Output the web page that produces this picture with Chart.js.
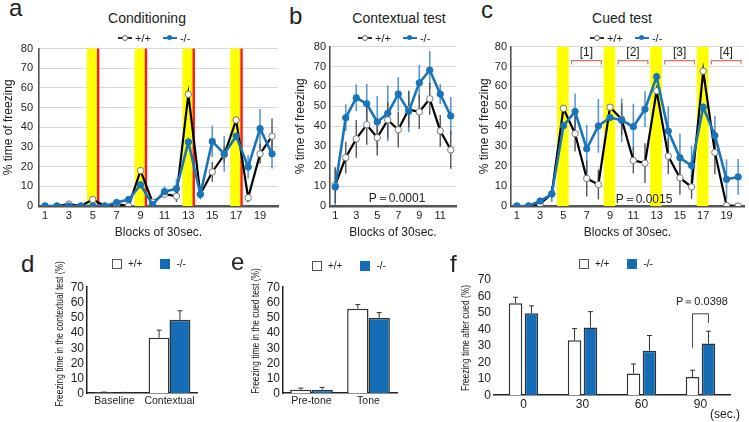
<!doctype html>
<html>

<head>
    <meta charset="utf-8" />
    <title>Freezing behaviour</title>
    <style>
        html,
        body {
            margin: 0px;
            padding: 0px;
            background-color: #ffffff;
            font-family: "Liberation Sans", Arial, sans-serif;
            color: #222222;
        }

        .page {
            position: relative;
            width: 749px;
            height: 422px;
            overflow: hidden;
        }

        canvas {
            position: absolute;
        }

        .txt {
            position: absolute;
            line-height: 1;
            white-space: nowrap;
        }

        .letter {
            font-size: 24px;
        }

        .title {
            font-size: 14px;
            transform: translateX(-50%);
        }

        .pval {
            font-size: 12px;
            transform: translateX(-50%);
        }

        .ytitle {
            position: absolute;
            font-size: 10px;
            line-height: 1;
            white-space: nowrap;
            transform: translate(-50%, -50%) rotate(-90deg) scaleX(0.84);
        }

        .ytick {
            position: absolute;
            font-size: 12px;
            line-height: 1;
            white-space: nowrap;
            color: #222222;
            transform: translate(-100%, -50%);
        }

        .lg {
            position: absolute;
            font-size: 11px;
            line-height: 12px;
            white-space: nowrap;
            display: flex;
            align-items: center;
        }

        .mk {
            position: relative;
            display: inline-block;
            width: 14px;
            height: 12px;
            margin-right: 3px;
        }

        .mk::before {
            content: "";
            position: absolute;
            left: 0px;
            right: 0px;
            top: 5px;
            height: 1.5px;
        }

        .mk::after {
            content: "";
            position: absolute;
            left: 4px;
            top: 3px;
            width: 5px;
            height: 5px;
            border-radius: 50%;
        }

        .mk.wt::before { background: #333333; }
        .mk.wt::after { background: #ffffff; border: 1px solid #666666; width: 4px; height: 4px; }
        .mk.ko::before { background: #1a74b9; height: 2px; }
        .mk.ko::after { background: #1a74b9; }

        .lgb {
            position: absolute;
            font-size: 10px;
            line-height: 10px;
            white-space: nowrap;
            display: flex;
            align-items: center;
        }

        .box {
            display: inline-block;
            width: 8px;
            height: 8px;
            border: 1px solid #555555;
            margin-right: 6px;
        }

        .box.ko {
            background: #146db5;
            border-color: #146db5;
        }
    </style>
</head>

<body>
    <div class="page" id="page">
        <canvas id="chart_a" width="284" height="209" style="left:0px;top:36px"></canvas>
        <canvas id="chart_b" width="172" height="209" style="left:290px;top:36px"></canvas>
        <canvas id="chart_c" width="279" height="209" style="left:470px;top:36px"></canvas>
        <canvas id="chart_d" width="160" height="138" style="left:40px;top:277px"></canvas>
        <canvas id="chart_e" width="164" height="138" style="left:236px;top:277px"></canvas>
        <canvas id="chart_f" width="290" height="146" style="left:455px;top:269px"></canvas>

        <div class="txt letter" style="left:9px;top:-4px">a</div>
        <div class="txt letter" style="left:289px;top:4px">b</div>
        <div class="txt letter" style="left:481px;top:-2px">c</div>
        <div class="txt letter" style="left:21px;top:252px">d</div>
        <div class="txt letter" style="left:231px;top:250px">e</div>
        <div class="txt letter" style="left:450px;top:252px">f</div>

        <div class="txt title" style="left:147px;top:11px">Conditioning</div>
        <div class="txt title" style="left:399px;top:11px">Contextual test</div>
        <div class="txt title" style="left:622px;top:11px">Cued test</div>

        <div class="lg" style="left:118px;top:32px"><span class="mk wt"></span>+/+<span style="width:12px"></span><span class="mk ko"></span>-/-</div>
        <div class="lg" style="left:358px;top:32px"><span class="mk wt"></span>+/+<span style="width:12px"></span><span class="mk ko"></span>-/-</div>
        <div class="lg" style="left:590px;top:32px"><span class="mk wt"></span>+/+<span style="width:12px"></span><span class="mk ko"></span>-/-</div>

        <div class="txt pval" style="left:397px;top:192px">P＝0.0001</div>
        <div class="txt pval" style="left:644px;top:193px">P＝0.0015</div>
        <div class="txt pval" style="left:702px;top:296px;font-size:11px">P＝0.0398</div>
        <div class="txt" style="left:710px;top:408px;font-size:12px">(sec.)</div>

        <div class="ytitle" style="left:60px;top:334px">Freezing time in the contextual test (%)</div>
        <div class="ytitle" style="left:256px;top:331px">Freezing time in the cued test (%)</div>
        <div class="ytitle" style="left:466px;top:338px">Freezing time after cued (%)</div>

        <div class="lgb" style="left:112px;top:259px"><span class="box"></span>+/+<span style="width:18px"></span><span class="box ko"></span>-/-</div>
        <div class="lgb" style="left:312px;top:261px"><span class="box"></span>+/+<span style="width:18px"></span><span class="box ko"></span>-/-</div>
        <div class="lgb" style="left:579px;top:259px"><span class="box"></span>+/+<span style="width:18px"></span><span class="box ko"></span>-/-</div>
    </div>

    <script src="https://cdn.jsdelivr.net/npm/chart.js@4.4.0/dist/chart.umd.min.js"></script>

    <script>
        // ---- data ----
        var blocks20 = ['1', '2', '3', '4', '5', '6', '7', '8', '9', '10', '11', '12', '13', '14', '15', '16', '17', '18', '19', '20'];
        var blocks12 = ['1', '2', '3', '4', '5', '6', '7', '8', '9', '10', '11', '12'];

        // a: conditioning
        var condWT = [0, 0, 1, 0, 3.3, 0, 1, 0, 18, 2, 6, 5, 56.8, 6, 17.3, 26, 43.7, 4.2, 26.5, 35.5];
        var condWTErr = [0, 0, 1, 0, 2, 0, 0.5, 0, 6, 1, 2, 3, 7, 2, 5, 4, 5.5, 2, 5, 9];
        var condKO = [0, 0, 0, 0, 0, 0, 1.8, 3.3, 10.8, 0.7, 7.3, 8.8, 32.5, 6, 32.8, 26.5, 35.5, 19.8, 39.3, 26.5];
        var condKOErr = [0, 0, 0, 0, 0.5, 0, 1, 1, 3, 1, 2.7, 5, 6, 2.5, 8, 9, 6, 6, 10, 7.5];
        var toneBlocks = ['5', '9', '13', '17'];

        // b: contextual test
        var ctxWT = [10.5, 24.3, 33.7, 40.8, 34.3, 43.2, 38.3, 48.5, 47.2, 53.8, 37.7, 28.2];
        var ctxWTErr = [9, 8, 9.5, 10, 9, 9, 9, 9, 8.5, 8, 8, 9.5];
        var ctxKO = [9.5, 44.3, 54.3, 51.3, 42.2, 46.5, 56.2, 47.5, 61.8, 68.2, 56.2, 45.2];
        var ctxKOErr = [9, 6.7, 6.7, 10, 13, 14, 8.5, 10.5, 9, 9.5, 5, 9.5];

        // c: cued test
        var cuedWT = [0, 0, 1, 6.2, 49, 36.3, 13.8, 10.8, 49.6, 43.5, 22.9, 21.5, 57.8, 25, 14.1, 9.6, 67.7, 26.9, 0.3, 0];
        var cuedWTErr = [0, 0, 1, 2, 5.5, 9, 9, 7.5, 7.5, 8, 6.5, 10, 4, 9, 8.5, 6, 4.5, 11, 0.5, 0];
        var cuedKO = [0, 0, 2.5, 6, 40.3, 47.4, 28.7, 40.2, 44.4, 43, 39.8, 48.6, 64.9, 37.6, 24.2, 20.3, 49.6, 35.3, 13.4, 14.6];
        var cuedKOErr = [0, 0, 1.5, 4, 6.3, 9, 12, 13.5, 4, 11, 11.5, 9, 5, 12.5, 12, 10, 6.5, 10, 10, 9];
        var bracketFrom = ['6', '10', '14', '18'];
        var bracketTo = ['8', '12', '16', '20'];
        var bracketNames = ['[1]', '[2]', '[3]', '[4]'];

        // d: contextual summary
        var ctxCats = ['Baseline', 'Contextual'];
        var ctxBarWT = [0.3, 36.5];
        var ctxBarWTErr = [0.3, 5];
        var ctxBarKO = [0.2, 48.3];
        var ctxBarKOErr = [0.2, 6];

        // e: cued summary
        var cuedCats = ['Pre-tone', 'Tone'];
        var cuedBarWT = [2.2, 55.7];
        var cuedBarWTErr = [1, 2.7];
        var cuedBarKO = [2.2, 49.5];
        var cuedBarKOErr = [1.5, 3.6];

        // f: after cue
        var afterCats = ['0', '30', '60', '90'];
        var afterWT = [55.4, 33.1, 13, 10.8];
        var afterWTErr = [3.6, 7, 5.7, 4.2];
        var afterKO = [49.4, 40.7, 26.7, 31.1];
        var afterKOErr = [4.4, 9.6, 9.2, 7.4];
        var sigCat = '90';
        var sigTop = 49, sigLeft = 28.5, sigRight = 43.5;

        var blue = '#1a74b9';
        var barBlue = '#146db5';
        var sans = "'Liberation Sans', Arial, sans-serif";

        Chart.defaults.font.family = sans;
        Chart.defaults.color = '#222222';

        // vertical error bars behind the lines
        var lineErrors = {
            id: 'lineErrors',
            beforeDatasetsDraw: function (chart) {
                var ctx = chart.ctx, y = chart.scales.y;
                ctx.save();
                chart.data.datasets.forEach(function (ds, i) {
                    var meta = chart.getDatasetMeta(i);
                    ctx.strokeStyle = ds.errColor;
                    ctx.lineWidth = ds.errWidth;
                    meta.data.forEach(function (pt, j) {
                        var e = ds.errors[j];
                        if (!e) return;
                        ctx.beginPath();
                        ctx.moveTo(pt.x, y.getPixelForValue(ds.data[j] - e));
                        ctx.lineTo(pt.x, y.getPixelForValue(ds.data[j] + e));
                        ctx.stroke();
                    });
                });
                ctx.restore();
            }
        };

        // upward error bars with small caps for the bar charts
        var barErrors = {
            id: 'barErrors',
            afterDatasetsDraw: function (chart) {
                var ctx = chart.ctx, y = chart.scales.y;
                ctx.save();
                ctx.strokeStyle = '#333333';
                ctx.lineWidth = 1;
                chart.data.datasets.forEach(function (ds, i) {
                    chart.getDatasetMeta(i).data.forEach(function (bar, j) {
                        var top = y.getPixelForValue(ds.data[j] + ds.errors[j]);
                        ctx.beginPath();
                        ctx.moveTo(bar.x, bar.y);
                        ctx.lineTo(bar.x, top);
                        ctx.moveTo(bar.x - 2.5, top);
                        ctx.lineTo(bar.x + 2.5, top);
                        ctx.stroke();
                    });
                });
                ctx.restore();
            }
        };

        // yellow tone periods (and red shock lines in a)
        var bands = {
            id: 'bands',
            beforeDatasetsDraw: function (chart, args, o) {
                var ctx = chart.ctx, ca = chart.chartArea, x = chart.scales.x;
                ctx.save();
                o.blocks.forEach(function (b) {
                    var i = x.getLabels().indexOf(b);
                    var x0 = x.getPixelForValue(i + o.from), x1 = x.getPixelForValue(i + o.to);
                    ctx.fillStyle = '#ffff00';
                    ctx.fillRect(x0, ca.top, x1 - x0, ca.bottom - ca.top);
                    if (o.red !== undefined) {
                        var xr = x.getPixelForValue(i + o.red);
                        ctx.fillStyle = '#ff1a1a';
                        ctx.fillRect(xr - 1.2, ca.top, 2.4, ca.bottom - ca.top);
                    }
                });
                ctx.restore();
            }
        };

        // [1]..[4] brackets in c
        var brackets = {
            id: 'brackets',
            afterDatasetsDraw: function (chart) {
                var ctx = chart.ctx, x = chart.scales.x, y = chart.scales.y;
                var lab = x.getLabels();
                ctx.save();
                bracketFrom.forEach(function (b, k) {
                    var xl = x.getPixelForValue(lab.indexOf(b) - 0.3);
                    var xr = x.getPixelForValue(lab.indexOf(bracketTo[k]) + 0.25);
                    var yl = y.getPixelForValue(73), yd = y.getPixelForValue(71);
                    ctx.strokeStyle = '#e2705e';
                    ctx.lineWidth = 1.2;
                    ctx.beginPath();
                    ctx.moveTo(xl, yd);
                    ctx.lineTo(xl, yl);
                    ctx.lineTo(xr, yl);
                    ctx.lineTo(xr, yd);
                    ctx.stroke();
                    ctx.fillStyle = '#222222';
                    ctx.font = '12px ' + sans;
                    ctx.textAlign = 'center';
                    ctx.textBaseline = 'middle';
                    ctx.fillText(bracketNames[k], (xl + xr) / 2, y.getPixelForValue(77));
                });
                ctx.restore();
            }
        };

        // significance bracket in f
        var sigBracket = {
            id: 'sigBracket',
            afterDatasetsDraw: function (chart) {
                var ctx = chart.ctx, y = chart.scales.y;
                var idx = chart.data.labels.indexOf(sigCat);
                var xl = chart.getDatasetMeta(0).data[idx].x;
                var xr = chart.getDatasetMeta(1).data[idx].x;
                ctx.save();
                ctx.strokeStyle = '#444444';
                ctx.lineWidth = 1;
                ctx.beginPath();
                ctx.moveTo(xl, y.getPixelForValue(sigLeft));
                ctx.lineTo(xl, y.getPixelForValue(sigTop));
                ctx.lineTo(xr, y.getPixelForValue(sigTop));
                ctx.lineTo(xr, y.getPixelForValue(sigRight));
                ctx.stroke();
                ctx.restore();
            }
        };

        function lineChart(id, labels, wt, wtErr, ko, koErr, s, extra, pluginOpts) {
            var ctx = document.getElementById(id).getContext('2d');
            return new Chart(ctx, {
                type: 'line',
                data: {
                    labels: labels,
                    datasets: [
                        {
                            label: '-/-',
                            data: ko,
                            errors: koErr,
                            errColor: 'rgba(60,135,200,0.85)',
                            errWidth: 1.6,
                            borderColor: blue,
                            backgroundColor: blue,
                            borderWidth: 2.6,
                            pointRadius: 3.2,
                            pointBackgroundColor: blue,
                            pointBorderColor: blue,
                            pointBorderWidth: 1
                        },
                        {
                            label: '+/+',
                            data: wt,
                            errors: wtErr,
                            errColor: '#555555',
                            errWidth: 1.4,
                            borderColor: '#000000',
                            backgroundColor: '#ffffff',
                            borderWidth: 2.2,
                            pointRadius: 3.2,
                            pointBackgroundColor: '#ffffff',
                            pointBorderColor: '#777777',
                            pointBorderWidth: 1
                        }
                    ]
                },
                options: {
                    animation: false,
                    responsive: false,
                    layout: { padding: { top: 10, right: s.padRight, left: 0, bottom: 0 } },
                    plugins: Object.assign({ legend: { display: false }, tooltip: { enabled: false } }, pluginOpts || {}),
                    scales: {
                        x: {
                            type: 'category',
                            offset: true,
                            grid: { display: false, drawTicks: false },
                            border: { display: true, color: '#555555', width: 2.5 },
                            ticks: {
                                autoSkip: false,
                                maxRotation: 0,
                                padding: 3,
                                font: { size: 11 },
                                color: '#222222',
                                callback: function (v, i) { return i % 2 === 0 ? labels[i] : ''; }
                            },
                            title: { display: true, text: 'Blocks of 30sec.', font: { size: 12 }, color: '#222222', padding: { top: 0, bottom: 5 } },
                            afterFit: function (sc) { sc.height = 39; }
                        },
                        y: {
                            min: 0,
                            max: 80,
                            grid: { color: '#d9d9d9', lineWidth: 1, drawTicks: false },
                            border: { display: true, color: '#505050', width: 1.6 },
                            ticks: { stepSize: 10, autoSkip: false, padding: s.tickPad, font: { size: 11 }, color: '#222222' },
                            title: { display: true, text: '% time of freezing', font: { size: 12 }, color: '#222222', padding: { top: s.titlePad, bottom: 0 } },
                            afterFit: function (sc) { sc.width = s.yWidth; }
                        }
                    }
                },
                plugins: [lineErrors].concat(extra)
            });
        }

        function barChart(id, labels, wt, wtErr, ko, koErr, s, extra) {
            var canvas = document.getElementById(id);
            var chart = new Chart(canvas.getContext('2d'), {
                type: 'bar',
                data: {
                    labels: labels,
                    datasets: [
                        {
                            label: '+/+',
                            data: wt,
                            errors: wtErr,
                            backgroundColor: '#ffffff',
                            borderColor: '#333333',
                            borderWidth: 1.5,
                            categoryPercentage: s.catPct,
                            barPercentage: s.barPct
                        },
                        {
                            label: '-/-',
                            data: ko,
                            errors: koErr,
                            backgroundColor: barBlue,
                            borderColor: '#333333',
                            borderWidth: 1.5,
                            categoryPercentage: s.catPct,
                            barPercentage: s.barPct
                        }
                    ]
                },
                options: {
                    animation: false,
                    responsive: false,
                    layout: { padding: { top: 10, right: s.padRight, left: 0, bottom: 0 } },
                    plugins: { legend: { display: false }, tooltip: { enabled: false } },
                    scales: {
                        x: {
                            grid: { display: false, drawTicks: false },
                            border: { display: true, color: '#222222', width: 1.5 },
                            ticks: { padding: 2, font: s.xFont, color: '#222222', maxRotation: 0, autoSkip: false },
                            afterFit: function (sc) { sc.height = s.xHeight; }
                        },
                        y: {
                            min: 0,
                            max: 70,
                            grid: { display: false, drawTicks: false },
                            border: { display: s.yLine, color: '#222222', width: 1.5 },
                            ticks: { display: false, stepSize: 10, autoSkip: false, padding: 3, font: { size: 12 } },
                            afterFit: function (sc) { sc.width = s.yWidth; }
                        }
                    }
                },
                plugins: [barErrors].concat(extra)
            });

            // y tick labels as page text, placed from the chart's own y scale
            var page = document.getElementById('page');
            var y = chart.scales.y;
            y.ticks.forEach(function (t) {
                var el = document.createElement('div');
                el.className = 'ytick';
                el.textContent = (t.label !== undefined && t.label !== null) ? String(t.label) : String(t.value);
                el.style.left = (canvas.offsetLeft + y.right - 3) + 'px';
                el.style.top = (canvas.offsetTop + y.getPixelForValue(t.value)) + 'px';
                page.appendChild(el);
            });
            return chart;
        }

        lineChart('chart_a', blocks20, condWT, condWTErr, condKO, condKOErr,
            { yWidth: 39, padRight: 6, tickPad: 6, titlePad: 1 }, [bands],
            { bands: { blocks: toneBlocks, from: -0.5, to: 0.38, red: 0.45 } });

        lineChart('chart_b', blocks12, ctxWT, ctxWTErr, ctxKO, ctxKOErr,
            { yWidth: 40, padRight: 6, tickPad: 4, titlePad: 3 }, []);

        lineChart('chart_c', blocks20, cuedWT, cuedWTErr, cuedKO, cuedKOErr,
            { yWidth: 41, padRight: 1, tickPad: 4, titlePad: 7 }, [bands, brackets],
            { bands: { blocks: toneBlocks, from: -0.55, to: 0.45 } });

        barChart('chart_d', ctxCats, ctxBarWT, ctxBarWTErr, ctxBarKO, ctxBarKOErr,
            { yWidth: 47, padRight: 3, catPct: 0.76, barPct: 1.0, xHeight: 22, xFont: { size: 10.5 }, yLine: true }, []);

        barChart('chart_e', cuedCats, cuedBarWT, cuedBarWTErr, cuedBarKO, cuedBarKOErr,
            { yWidth: 47, padRight: 3, catPct: 0.75, barPct: 1.0, xHeight: 22, xFont: { size: 10.5 }, yLine: true }, []);

        barChart('chart_f', afterCats, afterWT, afterWTErr, afterKO, afterKOErr,
            { yWidth: 39, padRight: 15, catPct: 0.54, barPct: 0.85, xHeight: 20, xFont: { size: 12 }, yLine: false }, [sigBracket]);
    </script>
</body>

</html>
